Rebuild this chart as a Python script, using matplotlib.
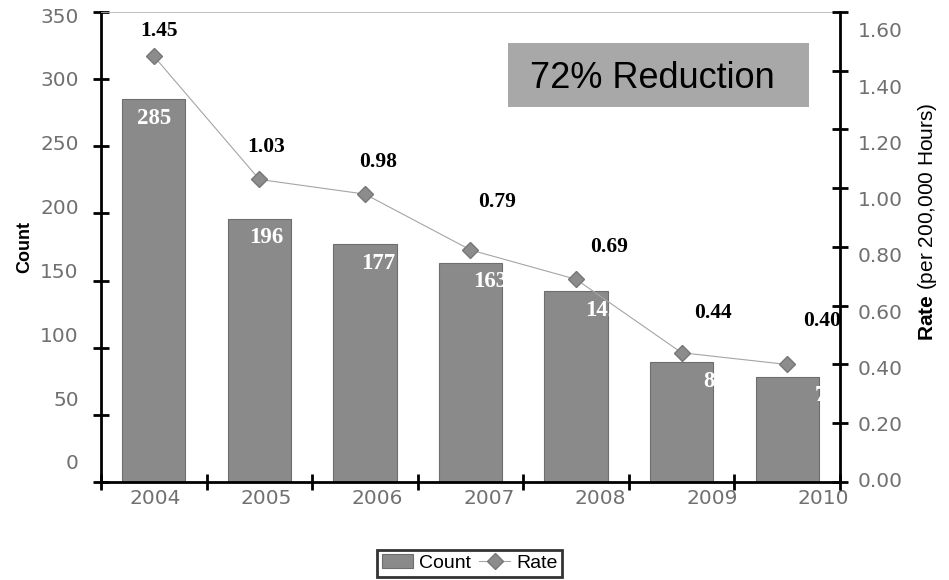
import numpy as np
import matplotlib.pyplot as plt
from matplotlib.patches import Rectangle
from matplotlib.ticker import FixedLocator

plt.rcParams['font.family'] = ['Liberation Sans', 'DejaVu Sans']
plt.rcParams['mathtext.fontset'] = 'custom'
plt.rcParams['mathtext.rm'] = 'Liberation Sans'
plt.rcParams['mathtext.bf'] = 'Liberation Sans:bold'

years = ['2004', '2005', '2006', '2007', '2008', '2009', '2010']
counts = [285, 196, 177, 163, 142, 89, 78]
rates = [1.45, 1.03, 0.98, 0.79, 0.69, 0.44, 0.40]
count_ticks = [0, 50, 100, 150, 200, 250, 300, 350]
rate_ticks = [0.0, 0.2, 0.4, 0.6, 0.8, 1.0, 1.2, 1.4, 1.6]

# hand-placed rate labels (points, relative to each marker)
rate_label_dx = [3.6, 5.0, 9.4, 19.4, 23.8, 22.3, 25.2]
rate_label_dy = [18.0, 23.0, 23.0, 34.5, 23.0, 28.8, 31.0]

bar_color = '#8a8a8a'
label_grey = '#707070'

fig = plt.figure(figsize=(9.49, 5.8), dpi=100)
ax = fig.add_axes([0.1064, 0.169, 0.7787, 0.8103])
x = np.arange(len(years))

bars = ax.bar(x, counts, width=0.6, color=bar_color, edgecolor='#6e6e6e', linewidth=0.8, zorder=2)
ax.set_xlim(-0.5, len(years) - 0.5)
ax.set_ylim(0, 350)

# white count labels inside the bars (they drift right a little, like the old excel export)
for i, c in enumerate(counts):
    ax.annotate(str(c), (x[i], c), xytext=(4.7 * i, -13.5), textcoords='offset points',
                ha='center', va='center', color='white', fontsize=16.5,
                fontweight='bold', family='Liberation Serif', zorder=3)

# spines
for side in ['left', 'bottom']:
    ax.spines[side].set_linewidth(2)
ax.spines['right'].set_visible(False)
ax.spines['top'].set_color('#b5b5b5')
ax.spines['top'].set_linewidth(0.6)

# tick marks on the minor locator, labels on a slightly shifted major locator
ax.xaxis.set_minor_locator(FixedLocator(np.arange(-0.5, len(years), 1.0)))
ax.set_xticks([0.01 + 1.055 * i for i in x])
ax.set_xticklabels(years)
ax.tick_params(axis='x', which='minor', direction='inout', length=12, width=2, color='black')
ax.tick_params(axis='x', which='major', length=0, pad=5, labelsize=14.5, labelcolor=label_grey)

ax.yaxis.set_minor_locator(FixedLocator(count_ticks))
ax.set_yticks([14.9 + 0.951 * v for v in count_ticks])
ax.set_yticklabels([str(v) for v in count_ticks])
ax.tick_params(axis='y', which='minor', direction='inout', length=12, width=2, color='black')
ax.tick_params(axis='y', which='major', length=0, pad=16, labelsize=14.5, labelcolor=label_grey)
for lbl in ax.get_xticklabels() + ax.get_yticklabels():
    lbl.set_fontfamily('DejaVu Sans')

ax.set_ylabel('Count', fontsize=13, fontweight='bold')
ax.yaxis.set_label_coords(-0.091, 0.5)

# rate on the secondary axis
ax2 = ax.twinx()
ax2.set_ylim(0, 1.6)
line, = ax2.plot(x, rates, color='#a5a5a5', linewidth=0.8, marker='D', markersize=8,
                 markerfacecolor='#8c8c8c', markeredgecolor='#777777', zorder=4)
for i, r in enumerate(rates):
    ax2.annotate(f'{r:.2f}', (x[i], r), xytext=(rate_label_dx[i], rate_label_dy[i]),
                 textcoords='offset points', ha='center', va='center', fontsize=15.5,
                 fontweight='bold', family='Liberation Serif', color='black')

for side in ['left', 'top', 'bottom']:
    ax2.spines[side].set_visible(False)
ax2.spines['right'].set_linewidth(2)
ax2.yaxis.set_minor_locator(FixedLocator(rate_ticks))
ax2.set_yticks([0.0068 + 0.958 * v for v in rate_ticks])
ax2.set_yticklabels([f'{v:.2f}' for v in rate_ticks])
ax2.tick_params(axis='y', which='minor', direction='inout', length=12, width=2, color='black')
ax2.tick_params(axis='y', which='major', length=0, pad=13, labelsize=14.5, labelcolor=label_grey)
for lbl in ax2.get_yticklabels():
    lbl.set_fontfamily('DejaVu Sans')

ax2.set_ylabel(r'$\mathbf{Rate}$ (per 200,000 Hours)', fontsize=15)
ax2.yaxis.set_label_coords(1.103, 0.553)

# callout box
ax.add_patch(Rectangle((0.551, 0.798), 0.407, 0.136, transform=ax.transAxes,
                       facecolor='#a8a8a8', edgecolor='none', zorder=5))
ax.text(0.7456, 0.838, '72% Reduction', transform=ax.transAxes, fontsize=26,
        ha='center', va='baseline', color='black', zorder=6)

leg = fig.legend([bars, line], ['Count', 'Rate'], loc='center', bbox_to_anchor=(0.495, 0.029),
                 ncol=2, frameon=True, fancybox=False, edgecolor='black', fontsize=14,
                 handlelength=1.6, columnspacing=0.4, handletextpad=0.3, borderpad=0.25)
leg.get_frame().set_linewidth(2)

plt.savefig('out.png', dpi=100)
